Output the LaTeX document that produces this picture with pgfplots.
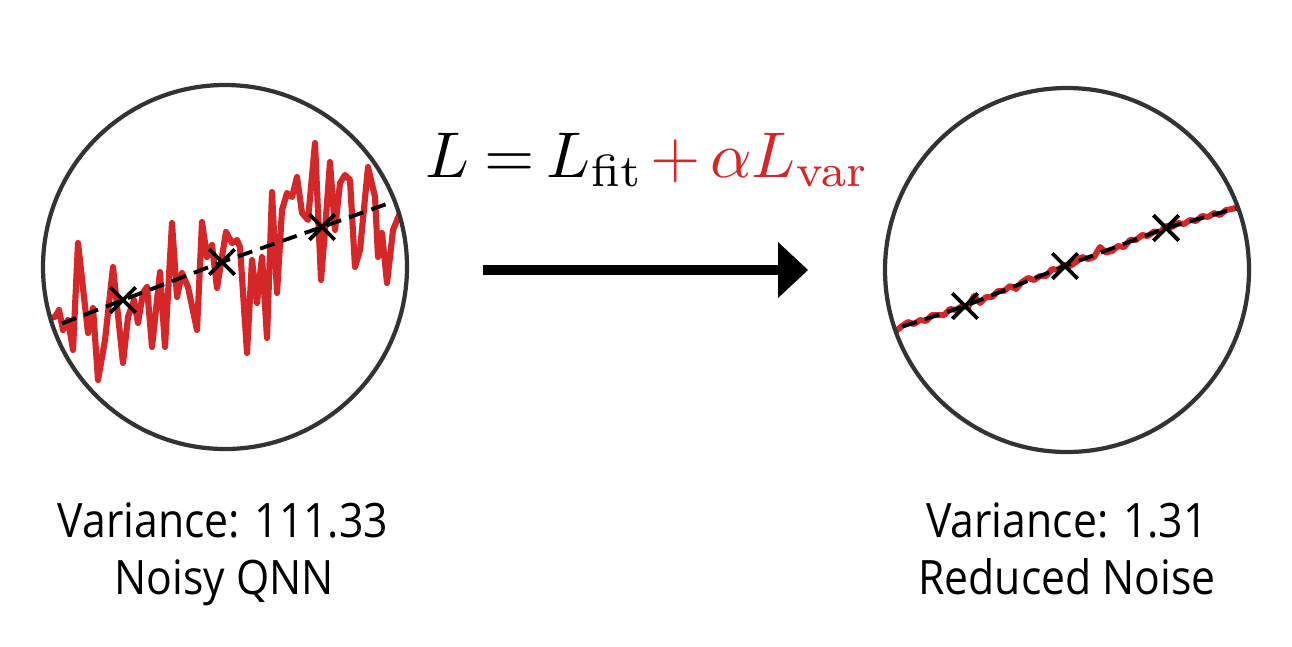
\documentclass[border=0pt]{standalone}
\usepackage[no-math]{fontspec}
\setmainfont[FakeStretch=0.9]{Open Sans}
\usepackage{graphicx}
\usepackage{pgfplots}
\pgfplotsset{compat=1.18}
\definecolor{qred}{RGB}{214,39,40}
\definecolor{ring}{RGB}{51,51,51}
\begin{document}
\begin{tikzpicture}
\begin{axis}[scale only axis, width=12.92cm, height=6.46cm,
  xmin=0, xmax=1292, ymin=0, ymax=646, y dir=reverse,
  hide axis, clip=false]
\path (axis cs:0,0) rectangle (axis cs:1292,646);
% ---- left: noisy QNN
\addplot[qred, line width=1.75pt, line join=round] coordinates {
(44,320)(50,318)(55,317)(59,310)(63,330)(68,320)(73,350)(78,243)(88,333)(93,308)(98,380)
(105,340)(113,267)(123,363)(128,317)(134,300)(138,323)(143,293)(147,287)(152,347)
(160,272)(165,347)(172,223)(177,297)(182,273)(188,287)(197,330)(202,222)(207,257)
(212,245)(217,288)(226,232)(232,243)(237,240)(240,247)(247,353)(252,260)(257,303)
(262,257)(267,338)(272,192)(277,293)(282,210)(287,193)(292,197)(297,177)(302,213)
(308,220)(315,143)(321,280)(325,230)(330,162)(335,230)(340,183)(345,175)(350,180)
(355,267)(360,250)(368,167)(375,197)(378,257)(382,233)(387,283)(393,230)(400,213)(412,198)};
\addplot[black, line width=1.1pt, dash pattern=on 4.3pt off 2.4pt] coordinates {
(40,332)(123,300)(222,262)(322,227)(412,195)};
\addplot[black, only marks, mark=x, mark size=5.1pt, mark options={line width=1.1pt}] coordinates {
(123,300)(222,262)(322,227)};
% ---- right: reduced noise
\addplot[qred, line width=1.7pt, line join=round] coordinates {
(884,334)(890,329)(896,331)(902,326)(908,322)(914,324)(920,320)(926,321)(932,315)(938,315)
(944,315)(950,309)(956,310)(962,306)(968,307)(974,296)(980,303)(986,297)(992,297)(998,291)
(1004,291)(1010,286)(1016,289)(1022,282)(1028,278)(1034,280)(1040,276)(1046,276)(1052,269)
(1058,270)(1064,265)(1070,266)(1076,262)(1082,257)(1088,259)(1094,257)(1100,247)(1106,252.5)
(1112,251)(1118,246)(1124,247)(1130,240)(1136,240)(1142,235)(1148,236)(1154,231.5)(1160,232)
(1166,226)(1172,227)(1178,223)(1184,224)(1190,220)(1196,221)(1202,216)(1208,217)(1214,213)
(1220,215)(1226,210)(1232,209)(1238,207)(1244,207)(1252,205)};
\addplot[black, line width=1.1pt, dash pattern=on 4.3pt off 2.4pt] coordinates {
(880,334)(965,306)(1065,266)(1166,228)(1252,204)};
\addplot[black, only marks, mark=x, mark size=5.1pt, mark options={line width=1.1pt}] coordinates {
(965,306)(1065,266)(1166,228)};
% ---- masks and rings
\fill[white, even odd rule] (axis cs:225,267) circle[radius=1.82cm]
  (axis cs:15,57) rectangle (axis cs:435,477);
\fill[white, even odd rule] (axis cs:1067,270) circle[radius=1.82cm]
  (axis cs:857,60) rectangle (axis cs:1277,480);
\draw[ring, line width=1.2pt] (axis cs:225,267) circle[radius=1.82cm];
\draw[ring, line width=1.2pt] (axis cs:1067,270) circle[radius=1.82cm];
% ---- arrow
\fill[black] (axis cs:483,265) rectangle (axis cs:780,275);
\fill[black] (axis cs:778,242) -- (axis cs:808,270) -- (axis cs:778,298) -- cycle;
% ---- formula
\node[anchor=base west, inner sep=0pt] at (axis cs:425,177)
  {\scalebox{1.84}{$L\mkern-1mu=\mkern-1.5mu L_{\mathrm{fit}}\mkern-2mu\mathbin{\color{qred}+}\mkern-1.5mu{\color{qred}\alpha L_{\mathrm{var}}}$}};
% ---- captions
\node[anchor=base, inner sep=0pt, font=\fontsize{13.5}{16}\selectfont] at (axis cs:223,537) {Variance: 111.33};
\node[anchor=base, inner sep=0pt, font=\fontsize{13.5}{16}\selectfont] at (axis cs:224,594) {Noisy QNN};
\node[anchor=base, inner sep=0pt, font=\fontsize{13.5}{16}\selectfont] at (axis cs:1067,537) {Variance: 1.31};
\node[anchor=base, inner sep=0pt, font=\fontsize{13.5}{16}\selectfont] at (axis cs:1067,594) {Reduced Noise};
\end{axis}
\end{tikzpicture}
\end{document}
